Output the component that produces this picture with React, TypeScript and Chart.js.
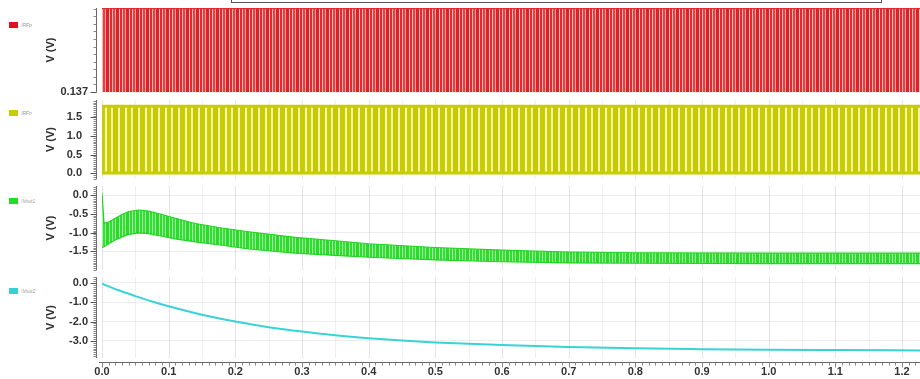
import React, { useEffect, useRef } from 'react';
import { Chart, registerables } from 'chart.js';

Chart.register(...registerables);

// ---------- data ----------
const X_MIN = 0;
const X_MAX = 1.227;
const xTicks = [0, 0.1, 0.2, 0.3, 0.4, 0.5, 0.6, 0.7, 0.8, 0.9, 1.0, 1.1, 1.2];
const xTickLabels = ['0.0', '0.1', '0.2', '0.3', '0.4', '0.5', '0.6', '0.7', '0.8', '0.9', '1.0', '1.1', '1.2'];

// RF clock signals: shown as their switching envelope (low / high levels)
const rfTime = [0, 1.227];
const rfpHigh = [1.8, 1.8];
const rfpLow = [0, 0];
const rfnHigh = [1.8, 1.8];
const rfnLow = [0, 0];

// Vout1 ripple envelope
const vout1Time = [0, 0.003, 0.01, 0.02, 0.03, 0.04, 0.055, 0.07, 0.09, 0.11, 0.14, 0.18, 0.22, 0.29, 0.35, 0.4, 0.5, 0.6, 0.7, 0.8, 1.0, 1.227];
const vout1Upper = [0.05, -0.75, -0.72, -0.62, -0.52, -0.44, -0.4, -0.43, -0.52, -0.62, -0.76, -0.88, -0.98, -1.13, -1.22, -1.3, -1.4, -1.47, -1.52, -1.54, -1.55, -1.55];
const vout1Lower = [-1.4, -1.38, -1.3, -1.2, -1.12, -1.05, -1.01, -1.03, -1.1, -1.17, -1.25, -1.34, -1.44, -1.55, -1.61, -1.66, -1.73, -1.78, -1.81, -1.82, -1.83, -1.83];

// Vout2
const vout2Time = [0, 0.025, 0.05, 0.075, 0.1, 0.15, 0.2, 0.25, 0.3, 0.35, 0.4, 0.45, 0.5, 0.6, 0.7, 0.8, 0.9, 1.0, 1.1, 1.227];
const vout2Values = [-0.03, -0.38, -0.68, -0.96, -1.21, -1.65, -2.0, -2.29, -2.52, -2.71, -2.86, -2.98, -3.08, -3.22, -3.32, -3.39, -3.43, -3.46, -3.48, -3.5];

// y tick labels per panel
const rfpTicks = [0.137];
const rfpTickLabels = ['0.137'];
const rfnTicks = [0, 0.5, 1.0, 1.5];
const rfnTickLabels = ['0.0', '0.5', '1.0', '1.5'];
const vout1Ticks = [-1.5, -1.0, -0.5, 0];
const vout1TickLabels = ['-1.5', '-1.0', '-0.5', '0.0'];
const vout2Ticks = [-3, -2, -1, 0];
const vout2TickLabels = ['-3.0', '-2.0', '-1.0', '0.0'];

const seriesNames = ['/RFp', '/RFn', '/Vout1', '/Vout2'];

// ---------- helpers ----------
const W = 920;
const H = 379;
const FONT = { family: '"Liberation Sans", Arial, sans-serif', size: 11, weight: 'bold' as const };
const TEXT = '#333';

function pts(xs: number[], ys: number[]) {
  return xs.map((x, i) => ({ x, y: ys[i] }));
}

function makePattern(stripes: [string, number][]) {
  const w = stripes.reduce((s, [, n]) => s + n, 0);
  const c = document.createElement('canvas');
  c.width = w;
  c.height = 4;
  const g = c.getContext('2d')!;
  let x = 0;
  for (const [col, n] of stripes) {
    g.fillStyle = col;
    g.fillRect(x, 0, n, 4);
    x += n;
  }
  return g.createPattern(c, 'repeat')!;
}

interface PanelCfg {
  top: number;
  bottom: number;
  yMin: number;
  yMax: number;
  ticks: number[];
  labels: string[];
  minorStart: number;
  minorStep: number;
  labelPad: number;
  isBottom: boolean;
  datasets: () => any[];
}

function decorPlugin(p: PanelCfg) {
  return {
    id: 'decor',
    beforeDatasetsDraw(chart: any) {
      const { ctx, chartArea: a, scales } = chart;
      const x = scales.x;
      ctx.save();
      ctx.lineWidth = 1;
      for (let i = 0; i < xTicks.length; i++) {
        const px = Math.round(x.getPixelForValue(xTicks[i])) + 0.5;
        ctx.strokeStyle = 'rgba(0,0,0,0.10)';
        ctx.beginPath();
        ctx.moveTo(px, a.top);
        ctx.lineTo(px, a.bottom);
        ctx.stroke();
        const mid = i < xTicks.length - 1 ? (xTicks[i] + xTicks[i + 1]) / 2 : xTicks[i] + 0.05;
        if (mid < X_MAX) {
          const pm = Math.round(x.getPixelForValue(mid)) + 0.5;
          ctx.strokeStyle = 'rgba(0,0,0,0.06)';
          ctx.beginPath();
          ctx.moveTo(pm, a.top);
          ctx.lineTo(pm, a.bottom);
          ctx.stroke();
        }
      }
      ctx.restore();
    },
    afterDraw(chart: any) {
      const { ctx, chartArea: a, scales } = chart;
      const y = scales.y;
      const x = scales.x;
      ctx.save();
      ctx.strokeStyle = '#666';
      ctx.lineWidth = 1;
      const ax = Math.round(a.left - 6) + 0.5;
      ctx.beginPath();
      ctx.moveTo(ax, a.top);
      ctx.lineTo(ax, a.bottom);
      ctx.stroke();
      ctx.strokeStyle = '#888';
      for (let v = p.minorStart; v <= p.yMax + 1e-9; v += p.minorStep) {
        if (v < p.yMin - 1e-9) continue;
        const py = Math.round(y.getPixelForValue(v)) + 0.5;
        ctx.beginPath();
        ctx.moveTo(ax - 3, py);
        ctx.lineTo(ax, py);
        ctx.stroke();
      }
      ctx.strokeStyle = '#555';
      for (const v of p.ticks) {
        const py = Math.round(y.getPixelForValue(v)) + 0.5;
        ctx.beginPath();
        ctx.moveTo(ax - 6, py);
        ctx.lineTo(ax, py);
        ctx.stroke();
      }
      if (p.isBottom) {
        const ay = Math.round(a.bottom + 4) + 0.5;
        ctx.strokeStyle = '#666';
        ctx.beginPath();
        ctx.moveTo(a.left - 3, ay);
        ctx.lineTo(a.right, ay);
        ctx.stroke();
        ctx.strokeStyle = '#888';
        for (let i = 0; i <= 123; i++) {
          const v = i * 0.01;
          if (v > X_MAX) break;
          const px = Math.round(x.getPixelForValue(v)) + 0.5;
          const major = i % 10 === 0;
          ctx.beginPath();
          ctx.moveTo(px, ay);
          ctx.lineTo(px, ay + (major ? 5 : 3));
          ctx.stroke();
        }
      }
      ctx.restore();
    },
  };
}

function buildConfig(p: PanelCfg) {
  const findLabel = (val: number, arr: number[], labels: string[]) => {
    const i = arr.findIndex((t) => Math.abs(t - val) < 1e-9);
    return i >= 0 ? labels[i] : '';
  };
  return {
    type: 'line' as const,
    data: { datasets: p.datasets() },
    plugins: [decorPlugin(p)],
    options: {
      animation: false as const,
      responsive: false,
      maintainAspectRatio: false,
      layout: {
        autoPadding: false,
        padding: { top: p.top, bottom: H - p.bottom - (p.isBottom ? 21 : 0), left: 40, right: 0 },
      },
      plugins: { legend: { display: false }, tooltip: { enabled: false } },
      elements: { point: { radius: 0 } },
      scales: {
        x: {
          type: 'linear' as const,
          min: X_MIN,
          max: X_MAX,
          grid: { display: false, drawTicks: false },
          border: { display: false },
          ticks: {
            display: p.isBottom,
            font: FONT,
            color: TEXT,
            padding: 7,
            maxRotation: 0,
            autoSkip: false,
            callback: (v: any) => findLabel(Number(v), xTicks, xTickLabels),
          },
          afterBuildTicks: (s: any) => {
            s.ticks = xTicks.map((v) => ({ value: v }));
          },
          afterFit: (s: any) => {
            s.height = p.isBottom ? 21 : 0;
            s.paddingLeft = 0;
            s.paddingRight = 0;
          },
        },
        y: {
          type: 'linear' as const,
          min: p.yMin,
          max: p.yMax,
          grid: { color: 'rgba(0,0,0,0.07)', drawTicks: false },
          border: { display: false },
          ticks: {
            font: FONT,
            color: TEXT,
            padding: p.labelPad,
            callback: (v: any) => findLabel(Number(v), p.ticks, p.labels),
          },
          afterBuildTicks: (s: any) => {
            s.ticks = p.ticks.map((v) => ({ value: v }));
          },
          title: { display: true, text: 'V (V)', font: FONT, color: TEXT, padding: { top: 4, bottom: 4 } },
          afterFit: (s: any) => {
            s.width = 62;
            s.paddingTop = 0;
            s.paddingBottom = 0;
          },
        },
      },
    },
  };
}

const legendItems = [
  { color: '#e0121b', top: 21 },
  { color: '#c8cc00', top: 109 },
  { color: '#22dd22', top: 197 },
  { color: '#33d3d3', top: 287 },
];

export default function App() {
  const refs = [useRef<HTMLCanvasElement>(null), useRef<HTMLCanvasElement>(null), useRef<HTMLCanvasElement>(null), useRef<HTMLCanvasElement>(null)];

  useEffect(() => {
    const redPat = makePattern([
      ['#e32a2f', 2], ['#f6b3b3', 1], ['#e84045', 2], ['#f3a0a0', 1], ['#df2227', 3], ['#f8c4c4', 1],
    ]);
    const yelPat = makePattern([
      ['#c9cc00', 5], ['#f4f5b8', 2], ['#cdd000', 4], ['#f0f2a8', 2], ['#c6c900', 5], ['#f2f3b0', 2],
    ]);
    const grnPat = makePattern([
      ['#2ee02e', 2], ['#a8f2a8', 1], ['#33e333', 2], ['#9aee9a', 1], ['#28dc28', 3], ['#b0f4b0', 1],
    ]);

    const panels: PanelCfg[] = [
      {
        top: 8, bottom: 92, yMin: 0.137, yMax: 1.8, ticks: rfpTicks, labels: rfpTickLabels,
        minorStart: 0.137, minorStep: 0.15, labelPad: 14, isBottom: false,
        datasets: () => [
          { data: pts(rfTime, rfpLow), borderColor: '#e32a2f', borderWidth: 2, fill: false },
          { data: pts(rfTime, rfpHigh), borderColor: '#e32a2f', borderWidth: 2, fill: '-1', backgroundColor: redPat },
        ],
      },
      {
        top: 100, bottom: 179, yMin: -0.16, yMax: 1.97, ticks: rfnTicks, labels: rfnTickLabels,
        minorStart: -0.15, minorStep: 0.05, labelPad: 20, isBottom: false,
        datasets: () => [
          { data: pts(rfTime, rfnLow), borderColor: '#c9cc00', borderWidth: 3, fill: false },
          { data: pts(rfTime, rfnHigh), borderColor: '#c9cc00', borderWidth: 3, fill: '-1', backgroundColor: yelPat },
        ],
      },
      {
        top: 186, bottom: 270, yMin: -2.0, yMax: 0.24, ticks: vout1Ticks, labels: vout1TickLabels,
        minorStart: -2.0, minorStep: 0.05, labelPad: 14, isBottom: false,
        datasets: () => [
          { data: pts(vout1Time, vout1Lower), borderColor: '#22d322', borderWidth: 1.2, fill: false },
          { data: pts(vout1Time, vout1Upper), borderColor: '#22d322', borderWidth: 1.2, fill: '-1', backgroundColor: grnPat },
        ],
      },
      {
        top: 277, bottom: 358, yMin: -3.89, yMax: 0.31, ticks: vout2Ticks, labels: vout2TickLabels,
        minorStart: -3.8, minorStep: 0.1, labelPad: 14, isBottom: true,
        datasets: () => [
          { data: pts(vout2Time, vout2Values), borderColor: '#38d4d4', borderWidth: 2, fill: false, cubicInterpolationMode: 'monotone' },
        ],
      },
    ];

    const charts = panels.map((p, i) => new Chart(refs[i].current!, buildConfig(p) as any));
    return () => charts.forEach((c) => c.destroy());
  }, []);

  return (
    <div style={{ position: 'fixed', left: 0, top: 0, width: W, height: H, background: '#fff', overflow: 'hidden' }}>
      <div
        style={{
          position: 'absolute', left: 231, top: -9, width: 651, height: 12,
          border: '1.5px solid #555', boxSizing: 'border-box',
        }}
      />
      {legendItems.map((l, i) => (
        <div key={i} style={{ position: 'absolute', left: 9, top: l.top, height: 7, display: 'flex', alignItems: 'center' }}>
          <div style={{ width: 9, height: 6, background: l.color }} />
          <span style={{ marginLeft: 3, fontSize: 5, color: '#999', fontFamily: 'Arial, sans-serif', fontStyle: 'italic' }}>
            {seriesNames[i]}
          </span>
        </div>
      ))}
      {refs.map((r, i) => (
        <canvas key={i} ref={r} width={W} height={H} style={{ position: 'absolute', left: 0, top: 0, width: W, height: H }} />
      ))}
    </div>
  );
}
